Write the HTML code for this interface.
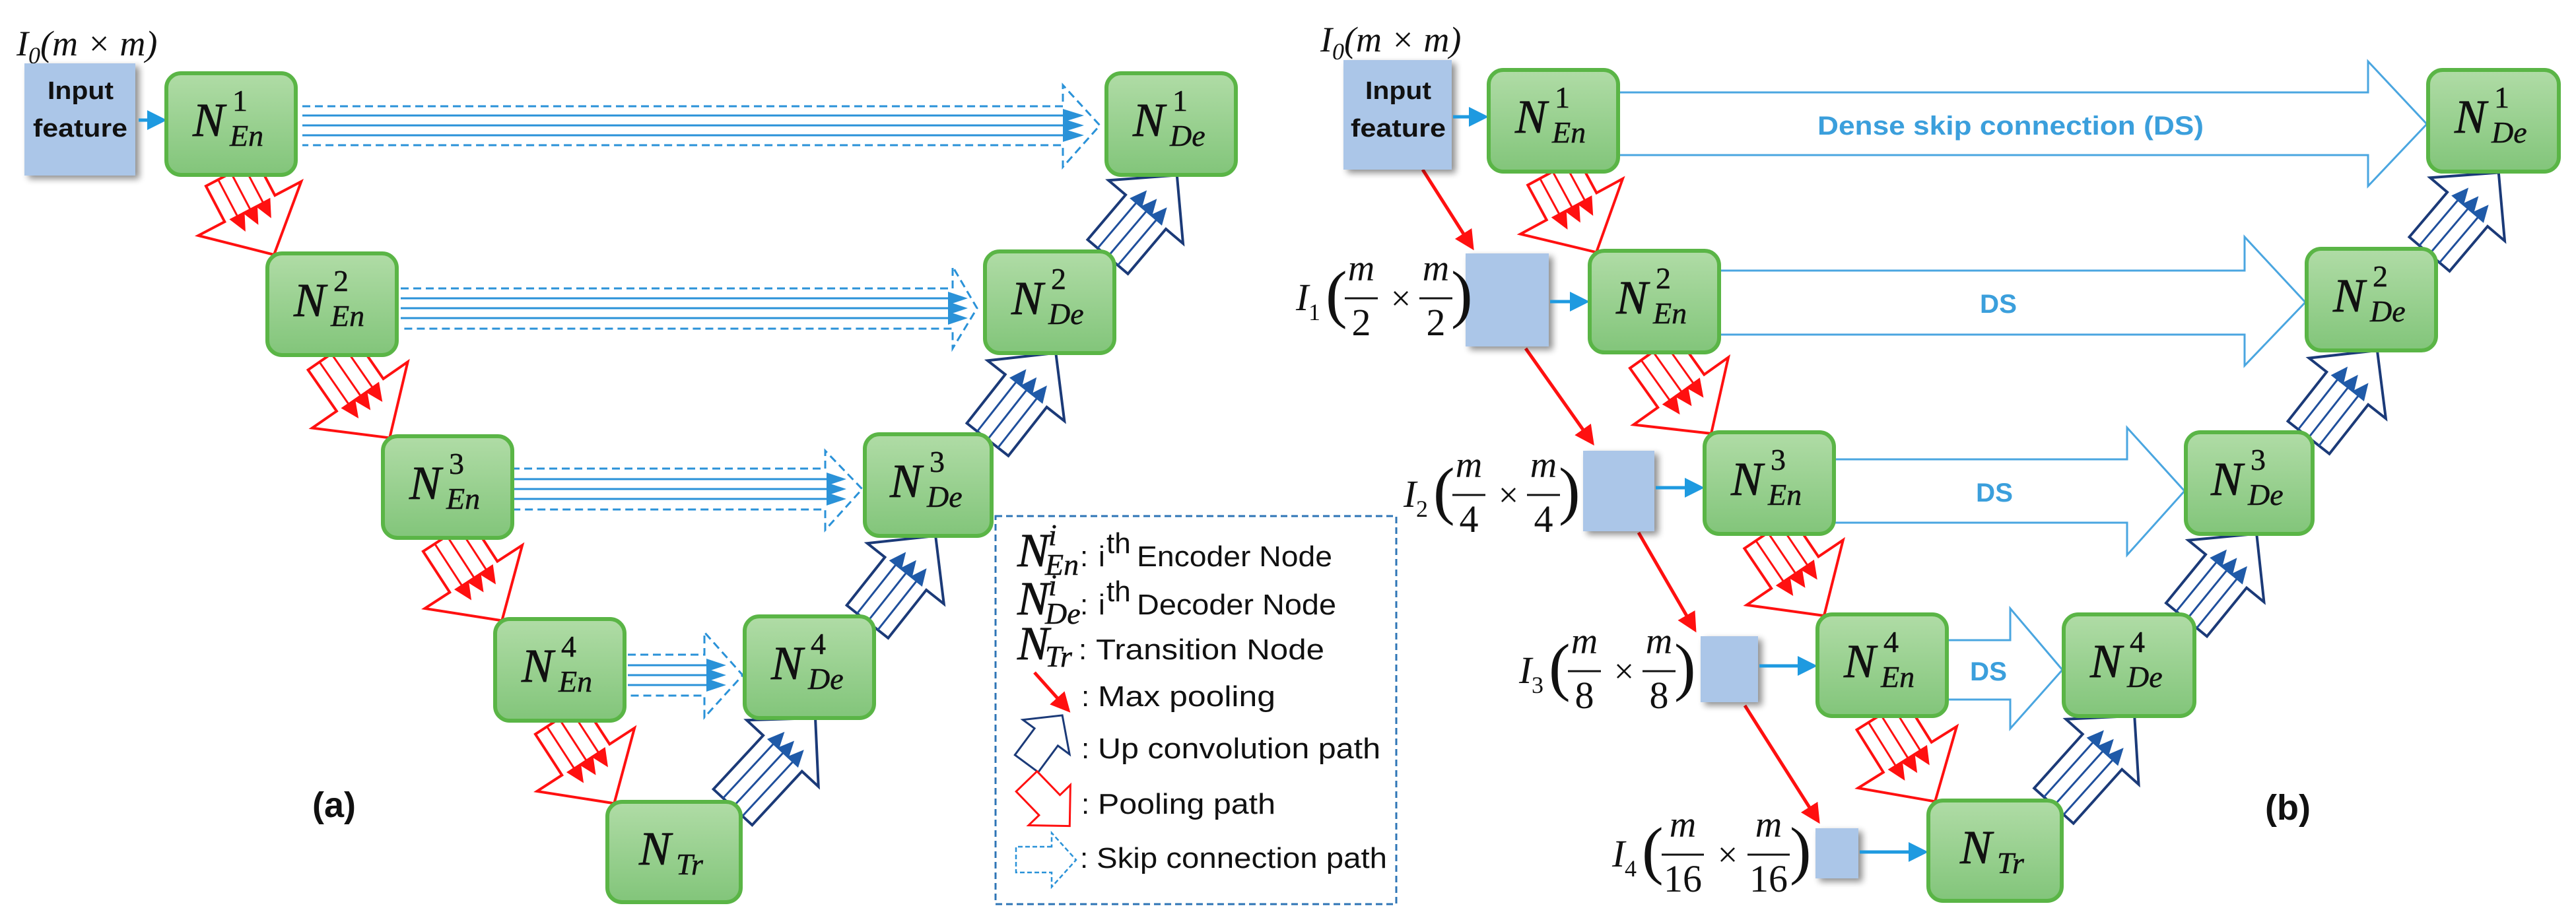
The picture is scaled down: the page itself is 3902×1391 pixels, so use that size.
<!DOCTYPE html>
<html><head><meta charset="utf-8"><style>
html,body{margin:0;padding:0;background:#fff;}
svg{display:block;}
.N{font-family:"Liberation Serif",serif;font-style:italic;font-size:72px;fill:#111;stroke:#111;stroke-width:0.8;}
.S{font-family:"Liberation Serif",serif;font-style:italic;font-size:46px;fill:#111;stroke:#111;stroke-width:0.5;}
.Sn{font-family:"Liberation Serif",serif;font-size:46px;fill:#111;stroke:#111;stroke-width:0.5;}
.nd{fill:url(#gg);stroke:#5ab546;stroke-width:6;}
.inb{fill:#abc6e8;}
.lt{font-family:"Liberation Sans",sans-serif;font-size:44px;fill:#111;}
.bt{font-family:"Liberation Sans",sans-serif;font-weight:bold;fill:#111;}
.ds{font-family:"Liberation Sans",sans-serif;font-weight:bold;font-size:40px;fill:#3b9fdc;}
.mi{font-family:"Liberation Serif",serif;font-style:italic;fill:#111;}
.mn{font-family:"Liberation Serif",serif;fill:#111;}
.pool polygon{fill:#fff;stroke:#ff1010;stroke-width:4;}
.pool line{stroke:#ff1010;stroke-width:3;}
.pool path{fill:#ff1010;}
.up polygon{fill:#fff;stroke:#1b3a78;stroke-width:4;}
.up line{stroke:#1f4f9c;stroke-width:3;}
.up path{fill:#1f5aa8;}
.sk path.o{fill:none;stroke:#2a92d8;stroke-width:3;stroke-dasharray:12 7;}
.sk line{stroke:#2a92d8;stroke-width:3;}
.sk path.t{fill:#2a92d8;}
.dsa{fill:#fff;stroke:#4aa6e0;stroke-width:3;}
</style></head><body>
<svg width="3902" height="1391" viewBox="0 0 3902 1391" xmlns="http://www.w3.org/2000/svg">
<defs>
<linearGradient id="gg" x1="0" y1="0" x2="0" y2="1"><stop offset="0" stop-color="#b0dca6"/><stop offset="1" stop-color="#82c57a"/></linearGradient>
<marker id="ab" markerWidth="6" markerHeight="6" refX="5" refY="3" orient="auto" markerUnits="strokeWidth"><path d="M0,0 L6,3 L0,6 z" fill="#1e9ae0"/></marker>
<marker id="ar" markerWidth="6" markerHeight="6" refX="5" refY="3" orient="auto" markerUnits="strokeWidth"><path d="M0,0 L6,3 L0,6 z" fill="#ff1010"/></marker>
<filter id="sh" x="-20%" y="-20%" width="150%" height="150%"><feGaussianBlur in="SourceAlpha" stdDeviation="5"/><feOffset dx="6" dy="5"/><feComponentTransfer><feFuncA type="linear" slope="0.45"/></feComponentTransfer><feMerge><feMergeNode/><feMergeNode in="SourceGraphic"/></feMerge></filter>
</defs>

<!-- ================= (a) ================= -->
<g class="sk">
<path class="o" d="M458,161 L1610,161 L1610,129 L1666,190 L1610,253 L1610,220 L458,220"/>
<line x1="458" y1="175" x2="1615" y2="175"/><line x1="458" y1="190" x2="1615" y2="190"/><line x1="458" y1="205" x2="1615" y2="205"/>
<path class="t" d="M1610,165 L1642,175 L1610,185 z M1610,180 L1642,190 L1610,200 z M1610,195 L1642,205 L1610,215 z"/>
<path class="o" d="M607,437 L1443,437 L1443,404 L1480,467 L1443,528 L1443,498 L607,498"/>
<line x1="607" y1="452" x2="1440" y2="452"/><line x1="607" y1="467" x2="1440" y2="467"/><line x1="607" y1="482" x2="1440" y2="482"/>
<path class="t" d="M1436,442 L1466,452 L1436,462 z M1436,457 L1466,467 L1436,477 z M1436,472 L1466,482 L1436,492 z"/>
<path class="o" d="M775,710 L1250,710 L1250,683 L1306,741 L1250,803 L1250,772 L775,772"/>
<line x1="775" y1="726" x2="1255" y2="726"/><line x1="775" y1="741" x2="1255" y2="741"/><line x1="775" y1="756" x2="1255" y2="756"/>
<path class="t" d="M1252,716 L1282,726 L1252,736 z M1252,731 L1282,741 L1252,751 z M1252,746 L1282,756 L1252,766 z"/>
<path class="o" d="M951,992 L1067,992 L1067,958 L1125,1023 L1067,1087 L1067,1054 L951,1054"/>
<line x1="951" y1="1008" x2="1075" y2="1008"/><line x1="951" y1="1023" x2="1075" y2="1023"/><line x1="951" y1="1038" x2="1075" y2="1038"/>
<path class="t" d="M1070,998 L1100,1008 L1070,1018 z M1070,1013 L1100,1023 L1070,1033 z M1070,1028 L1100,1038 L1070,1048 z"/>
</g>

<g class="pool" transform="translate(350,262) rotate(62.3)"><polygon points="0,-43 61,-43 61,-88 140,0 61,88 61,43 0,43"/><line x1="0" y1="-22" x2="65" y2="-22"/><line x1="0" y1="0" x2="65" y2="0"/><line x1="0" y1="22" x2="65" y2="22"/><path d="M61,-35 L89,-22 L61,-9 z M61,-13 L89,0 L61,13 z M61,9 L89,22 L61,35 z"/></g>
<g class="pool" transform="translate(502,536) rotate(55.3)"><polygon points="0,-43 76,-43 76,-88 155,0 76,88 76,43 0,43"/><line x1="0" y1="-22" x2="80" y2="-22"/><line x1="0" y1="0" x2="80" y2="0"/><line x1="0" y1="22" x2="80" y2="22"/><path d="M76,-35 L104,-22 L76,-9 z M76,-13 L104,0 L76,13 z M76,9 L104,22 L76,35 z"/></g>
<g class="pool" transform="translate(677,812) rotate(57)"><polygon points="0,-43 74,-43 74,-88 153,0 74,88 74,43 0,43"/><line x1="0" y1="-22" x2="78" y2="-22"/><line x1="0" y1="0" x2="78" y2="0"/><line x1="0" y1="22" x2="78" y2="22"/><path d="M74,-35 L102,-22 L74,-9 z M74,-13 L102,0 L74,13 z M74,9 L102,22 L74,35 z"/></g>
<g class="pool" transform="translate(847,1089) rotate(57)"><polygon points="0,-43 74,-43 74,-88 153,0 74,88 74,43 0,43"/><line x1="0" y1="-22" x2="78" y2="-22"/><line x1="0" y1="0" x2="78" y2="0"/><line x1="0" y1="22" x2="78" y2="22"/><path d="M74,-35 L102,-22 L74,-9 z M74,-13 L102,0 L74,13 z M74,9 L102,22 L74,35 z"/></g>

<g class="up" transform="translate(1678,389) rotate(-49.7)"><polygon points="0,-40 89,-40 89,-74 162,0 89,74 89,40 0,40"/><line x1="0" y1="-20" x2="93" y2="-20"/><line x1="0" y1="0" x2="93" y2="0"/><line x1="0" y1="20" x2="93" y2="20"/><path d="M89,-32 L115,-20 L89,-8 z M89,-12 L115,0 L89,12 z M89,8 L115,20 L89,32 z"/></g>
<g class="up" transform="translate(1496,666) rotate(-51.8)"><polygon points="0,-40 94,-40 94,-74 167,0 94,74 94,40 0,40"/><line x1="0" y1="-20" x2="98" y2="-20"/><line x1="0" y1="0" x2="98" y2="0"/><line x1="0" y1="20" x2="98" y2="20"/><path d="M94,-32 L120,-20 L94,-8 z M94,-12 L120,0 L94,12 z M94,8 L120,20 L94,32 z"/></g>
<g class="up" transform="translate(1314,942) rotate(-51.6)"><polygon points="0,-40 93,-40 93,-74 166,0 93,74 93,40 0,40"/><line x1="0" y1="-20" x2="97" y2="-20"/><line x1="0" y1="0" x2="97" y2="0"/><line x1="0" y1="20" x2="97" y2="20"/><path d="M93,-32 L119,-20 L93,-8 z M93,-12 L119,0 L93,12 z M93,8 L119,20 L93,32 z"/></g>
<g class="up" transform="translate(1110,1223) rotate(-47.2)"><polygon points="0,-40 111,-40 111,-74 184,0 111,74 111,40 0,40"/><line x1="0" y1="-20" x2="115" y2="-20"/><line x1="0" y1="0" x2="115" y2="0"/><line x1="0" y1="20" x2="115" y2="20"/><path d="M111,-32 L137,-20 L111,-8 z M111,-12 L137,0 L111,12 z M111,8 L137,20 L111,32 z"/></g>

<text class="mi" x="25" y="84" font-size="54">I<tspan class="mn" font-size="36" dy="12">0</tspan><tspan dy="-12">(m</tspan><tspan class="mn"> × </tspan><tspan>m)</tspan></text>
<rect class="inb" x="37" y="96" width="168" height="170" filter="url(#sh)"/>
<text class="bt" x="72" y="150" font-size="38" textLength="100" lengthAdjust="spacingAndGlyphs">Input</text>
<text class="bt" x="50" y="207" font-size="38" textLength="143" lengthAdjust="spacingAndGlyphs">feature</text>
<line x1="210" y1="182" x2="248" y2="182" stroke="#1e9ae0" stroke-width="5" marker-end="url(#ab)"/>

<g transform="translate(252,111)"><rect class="nd" width="196" height="154" rx="22"/><text class="N" x="40" y="95">N</text><text class="Sn" x="100" y="57">1</text><text class="S" x="96" y="110">En</text></g>
<g transform="translate(405,384)"><rect class="nd" width="196" height="154" rx="22"/><text class="N" x="40" y="95">N</text><text class="Sn" x="100" y="57">2</text><text class="S" x="96" y="110">En</text></g>
<g transform="translate(580,661)"><rect class="nd" width="196" height="154" rx="22"/><text class="N" x="40" y="95">N</text><text class="Sn" x="100" y="57">3</text><text class="S" x="96" y="110">En</text></g>
<g transform="translate(750,938)"><rect class="nd" width="196" height="154" rx="22"/><text class="N" x="40" y="95">N</text><text class="Sn" x="100" y="57">4</text><text class="S" x="96" y="110">En</text></g>
<g transform="translate(920,1215)"><rect class="nd" width="202" height="152" rx="22"/><text class="N" x="48" y="95">N</text><text class="S" x="104" y="110">Tr</text></g>
<g transform="translate(1676,111)"><rect class="nd" width="196" height="154" rx="22"/><text class="N" x="40" y="95">N</text><text class="Sn" x="100" y="57">1</text><text class="S" x="96" y="110">De</text></g>
<g transform="translate(1492,381)"><rect class="nd" width="196" height="154" rx="22"/><text class="N" x="40" y="95">N</text><text class="Sn" x="100" y="57">2</text><text class="S" x="96" y="110">De</text></g>
<g transform="translate(1310,658)"><rect class="nd" width="192" height="154" rx="22"/><text class="N" x="38" y="95">N</text><text class="Sn" x="98" y="57">3</text><text class="S" x="94" y="110">De</text></g>
<g transform="translate(1128,934)"><rect class="nd" width="196" height="154" rx="22"/><text class="N" x="40" y="95">N</text><text class="Sn" x="100" y="57">4</text><text class="S" x="96" y="110">De</text></g>

<text class="bt" x="473" y="1238" font-size="54">(a)</text>

<rect x="1508" y="782" width="607" height="588" fill="none" stroke="#2e75b6" stroke-width="3" stroke-dasharray="10 6"/>
<text class="N" x="1541" y="858" font-size="56">N</text><text class="S" x="1588" y="826" font-size="36">i</text><text class="S" x="1583" y="871" font-size="36">En</text>
<text class="lt" x="1636" y="858">:</text><text class="lt" x="1664" y="858">i</text><text class="lt" x="1676" y="838" font-size="28">th</text><text class="lt" x="1722" y="858" textLength="296" lengthAdjust="spacingAndGlyphs">Encoder Node</text>
<text class="N" x="1541" y="931" font-size="56">N</text><text class="S" x="1588" y="902" font-size="36">i</text><text class="S" x="1583" y="945" font-size="36">De</text>
<text class="lt" x="1636" y="931">:</text><text class="lt" x="1664" y="931">i</text><text class="lt" x="1676" y="911" font-size="28">th</text><text class="lt" x="1722" y="931" textLength="302" lengthAdjust="spacingAndGlyphs">Decoder Node</text>
<text class="N" x="1541" y="999" font-size="56">N</text><text class="S" x="1583" y="1010" font-size="36">Tr</text>
<text class="lt" x="1634" y="999">:</text><text class="lt" x="1660" y="999" textLength="346" lengthAdjust="spacingAndGlyphs">Transition Node</text>
<line x1="1567" y1="1019" x2="1618" y2="1076" stroke="#ff1010" stroke-width="5" marker-end="url(#ar)"/>
<text class="lt" x="1638" y="1070">:</text><text class="lt" x="1663" y="1070" textLength="269" lengthAdjust="spacingAndGlyphs">Max pooling</text>
<g class="up" transform="translate(1555,1157) rotate(-53.5)"><polygon points="0,-22 50,-22 50,-44 91,0 50,44 50,22 0,22" style="stroke-width:3"/></g>
<text class="lt" x="1638" y="1149">:</text><text class="lt" x="1663" y="1149" textLength="428" lengthAdjust="spacingAndGlyphs">Up convolution path</text>
<g class="pool" transform="translate(1555,1184) rotate(46)"><polygon points="0,-22 50,-22 50,-44 94,0 50,44 50,22 0,22" style="stroke-width:3"/></g>
<text class="lt" x="1638" y="1233">:</text><text class="lt" x="1663" y="1233" textLength="269" lengthAdjust="spacingAndGlyphs">Pooling path</text>
<path d="M1593,1283 L1539,1283 L1539,1322 L1593,1322 L1593,1344 L1630,1303 L1593,1262 z" fill="none" stroke="#2a92d8" stroke-width="2.5" stroke-dasharray="7 4"/>
<text class="lt" x="1636" y="1315">:</text><text class="lt" x="1661" y="1315" textLength="440" lengthAdjust="spacingAndGlyphs">Skip connection path</text>

<!-- ================= (b) ================= -->
<polygon class="dsa" points="2450,140 3587,140 3587,93 3676,188 3587,282 3587,235 2450,235"/>
<polygon class="dsa" points="2601,410 3400,410 3400,359 3492,458 3400,554 3400,507 2601,507"/>
<polygon class="dsa" points="2775,696 3222,696 3222,648 3309,744 3222,841 3222,792 2775,792"/>
<polygon class="dsa" points="2946,970 3045,970 3045,922 3124,1015 3045,1104 3045,1060 2946,1060"/>
<text class="ds" x="2753" y="204" textLength="585" lengthAdjust="spacingAndGlyphs">Dense skip connection (DS)</text>
<text class="ds" x="2999" y="474" textLength="56" lengthAdjust="spacingAndGlyphs">DS</text>
<text class="ds" x="2993" y="760" textLength="56" lengthAdjust="spacingAndGlyphs">DS</text>
<text class="ds" x="2984" y="1031" textLength="56" lengthAdjust="spacingAndGlyphs">DS</text>

<g class="pool" transform="translate(2352,260) rotate(61.6)"><polygon points="0,-43 60,-43 60,-88 139,0 60,88 60,43 0,43"/><line x1="0" y1="-22" x2="64" y2="-22"/><line x1="0" y1="0" x2="64" y2="0"/><line x1="0" y1="22" x2="64" y2="22"/><path d="M60,-35 L88,-22 L60,-9 z M60,-13 L88,0 L60,13 z M60,9 L88,22 L60,35 z"/></g>
<g class="pool" transform="translate(2504,533) rotate(54.6)"><polygon points="0,-43 73,-43 73,-88 152,0 73,88 73,43 0,43"/><line x1="0" y1="-22" x2="77" y2="-22"/><line x1="0" y1="0" x2="77" y2="0"/><line x1="0" y1="22" x2="77" y2="22"/><path d="M73,-35 L101,-22 L73,-9 z M73,-13 L101,0 L73,13 z M73,9 L101,22 L73,35 z"/></g>
<g class="pool" transform="translate(2678,807) rotate(56)"><polygon points="0,-43 73,-43 73,-88 152,0 73,88 73,43 0,43"/><line x1="0" y1="-22" x2="77" y2="-22"/><line x1="0" y1="0" x2="77" y2="0"/><line x1="0" y1="22" x2="77" y2="22"/><path d="M73,-35 L101,-22 L73,-9 z M73,-13 L101,0 L73,13 z M73,9 L101,22 L73,35 z"/></g>
<g class="pool" transform="translate(2849,1083) rotate(58)"><polygon points="0,-43 76,-43 76,-88 155,0 76,88 76,43 0,43"/><line x1="0" y1="-22" x2="80" y2="-22"/><line x1="0" y1="0" x2="80" y2="0"/><line x1="0" y1="22" x2="80" y2="22"/><path d="M76,-35 L104,-22 L76,-9 z M76,-13 L104,0 L76,13 z M76,9 L104,22 L76,35 z"/></g>

<g class="up" transform="translate(3680,385) rotate(-49.7)"><polygon points="0,-40 89,-40 89,-74 162,0 89,74 89,40 0,40"/><line x1="0" y1="-20" x2="93" y2="-20"/><line x1="0" y1="0" x2="93" y2="0"/><line x1="0" y1="20" x2="93" y2="20"/><path d="M89,-32 L115,-20 L89,-8 z M89,-12 L115,0 L89,12 z M89,8 L115,20 L89,32 z"/></g>
<g class="up" transform="translate(3497,663) rotate(-51.8)"><polygon points="0,-40 95,-40 95,-74 168,0 95,74 95,40 0,40"/><line x1="0" y1="-20" x2="99" y2="-20"/><line x1="0" y1="0" x2="99" y2="0"/><line x1="0" y1="20" x2="99" y2="20"/><path d="M95,-32 L121,-20 L95,-8 z M95,-12 L121,0 L95,12 z M95,8 L121,20 L95,32 z"/></g>
<g class="up" transform="translate(3312,939) rotate(-50.8)"><polygon points="0,-40 95,-40 95,-74 168,0 95,74 95,40 0,40"/><line x1="0" y1="-20" x2="99" y2="-20"/><line x1="0" y1="0" x2="99" y2="0"/><line x1="0" y1="20" x2="99" y2="20"/><path d="M95,-32 L121,-20 L95,-8 z M95,-12 L121,0 L95,12 z M95,8 L121,20 L95,32 z"/></g>
<g class="up" transform="translate(3111,1221) rotate(-48.1)"><polygon points="0,-40 110,-40 110,-74 183,0 110,74 110,40 0,40"/><line x1="0" y1="-20" x2="114" y2="-20"/><line x1="0" y1="0" x2="114" y2="0"/><line x1="0" y1="20" x2="114" y2="20"/><path d="M110,-32 L136,-20 L110,-8 z M110,-12 L136,0 L110,12 z M110,8 L136,20 L110,32 z"/></g>

<g stroke="#ff1010" stroke-width="5" fill="none">
<line x1="2155" y1="257" x2="2230" y2="375" marker-end="url(#ar)"/>
<line x1="2311" y1="528" x2="2412" y2="671" marker-end="url(#ar)"/>
<line x1="2482" y1="807" x2="2567" y2="954" marker-end="url(#ar)"/>
<line x1="2643" y1="1069" x2="2754" y2="1244" marker-end="url(#ar)"/>
</g>

<text class="mi" x="2000" y="78" font-size="54">I<tspan class="mn" font-size="36" dy="12">0</tspan><tspan dy="-12">(m</tspan><tspan class="mn"> × </tspan><tspan>m)</tspan></text>
<rect class="inb" x="2035" y="91" width="164" height="166" filter="url(#sh)"/>
<text class="bt" x="2068" y="150" font-size="38" textLength="100" lengthAdjust="spacingAndGlyphs">Input</text>
<text class="bt" x="2046" y="207" font-size="38" textLength="144" lengthAdjust="spacingAndGlyphs">feature</text>
<rect class="inb" x="2220" y="384" width="126" height="141" filter="url(#sh)"/>
<rect class="inb" x="2398" y="683" width="108" height="122" filter="url(#sh)"/>
<rect class="inb" x="2576" y="964" width="87" height="100" filter="url(#sh)"/>
<rect class="inb" x="2750" y="1255" width="65" height="76" filter="url(#sh)"/>

<g stroke="#1e9ae0" stroke-width="5">
<line x1="2201" y1="177" x2="2250" y2="177" marker-end="url(#ab)"/>
<line x1="2348" y1="457" x2="2403" y2="457" marker-end="url(#ab)"/>
<line x1="2508" y1="739" x2="2577" y2="739" marker-end="url(#ab)"/>
<line x1="2665" y1="1009" x2="2748" y2="1009" marker-end="url(#ab)"/>
<line x1="2817" y1="1291" x2="2916" y2="1291" marker-end="url(#ab)"/>
</g>

<g>
<text class="mi" x="1963" y="470" font-size="58">I</text><text class="mn" x="1982" y="485" font-size="36">1</text>
<text class="mn" x="2008" y="478" font-size="98">(</text>
<text class="mi" x="2062" y="425" font-size="56" text-anchor="middle">m</text><line x1="2037" y1="452" x2="2087" y2="452" stroke="#111" stroke-width="3"/><text class="mn" x="2062" y="508" font-size="58" text-anchor="middle">2</text>
<text class="mn" x="2122" y="470" font-size="54" text-anchor="middle">×</text>
<text class="mi" x="2175" y="425" font-size="56" text-anchor="middle">m</text><line x1="2150" y1="452" x2="2200" y2="452" stroke="#111" stroke-width="3"/><text class="mn" x="2175" y="508" font-size="58" text-anchor="middle">2</text>
<text class="mn" x="2198" y="478" font-size="98">)</text>
</g>
<g transform="translate(163,298)">
<text class="mi" x="1963" y="470" font-size="58">I</text><text class="mn" x="1982" y="485" font-size="36">2</text>
<text class="mn" x="2008" y="478" font-size="98">(</text>
<text class="mi" x="2062" y="425" font-size="56" text-anchor="middle">m</text><line x1="2037" y1="452" x2="2087" y2="452" stroke="#111" stroke-width="3"/><text class="mn" x="2062" y="508" font-size="58" text-anchor="middle">4</text>
<text class="mn" x="2122" y="470" font-size="54" text-anchor="middle">×</text>
<text class="mi" x="2175" y="425" font-size="56" text-anchor="middle">m</text><line x1="2150" y1="452" x2="2200" y2="452" stroke="#111" stroke-width="3"/><text class="mn" x="2175" y="508" font-size="58" text-anchor="middle">4</text>
<text class="mn" x="2198" y="478" font-size="98">)</text>
</g>
<g transform="translate(338,565)">
<text class="mi" x="1963" y="470" font-size="58">I</text><text class="mn" x="1982" y="485" font-size="36">3</text>
<text class="mn" x="2008" y="478" font-size="98">(</text>
<text class="mi" x="2062" y="425" font-size="56" text-anchor="middle">m</text><line x1="2037" y1="452" x2="2087" y2="452" stroke="#111" stroke-width="3"/><text class="mn" x="2062" y="508" font-size="58" text-anchor="middle">8</text>
<text class="mn" x="2122" y="470" font-size="54" text-anchor="middle">×</text>
<text class="mi" x="2175" y="425" font-size="56" text-anchor="middle">m</text><line x1="2150" y1="452" x2="2200" y2="452" stroke="#111" stroke-width="3"/><text class="mn" x="2175" y="508" font-size="58" text-anchor="middle">8</text>
<text class="mn" x="2198" y="478" font-size="98">)</text>
</g>
<g transform="translate(479,843)">
<text class="mi" x="1963" y="470" font-size="58">I</text><text class="mn" x="1982" y="485" font-size="36">4</text>
<text class="mn" x="2008" y="478" font-size="98">(</text>
<text class="mi" x="2070" y="425" font-size="56" text-anchor="middle">m</text><line x1="2038" y1="452" x2="2102" y2="452" stroke="#111" stroke-width="3"/><text class="mn" x="2070" y="508" font-size="58" text-anchor="middle">16</text>
<text class="mn" x="2138" y="470" font-size="54" text-anchor="middle">×</text>
<text class="mi" x="2200" y="425" font-size="56" text-anchor="middle">m</text><line x1="2168" y1="452" x2="2232" y2="452" stroke="#111" stroke-width="3"/><text class="mn" x="2200" y="508" font-size="58" text-anchor="middle">16</text>
<text class="mn" x="2232" y="478" font-size="98">)</text>
</g>

<g transform="translate(2255,106)"><rect class="nd" width="196" height="154" rx="22"/><text class="N" x="40" y="95">N</text><text class="Sn" x="100" y="57">1</text><text class="S" x="96" y="110">En</text></g>
<g transform="translate(2408,380)"><rect class="nd" width="196" height="154" rx="22"/><text class="N" x="40" y="95">N</text><text class="Sn" x="100" y="57">2</text><text class="S" x="96" y="110">En</text></g>
<g transform="translate(2582,655)"><rect class="nd" width="196" height="154" rx="22"/><text class="N" x="40" y="95">N</text><text class="Sn" x="100" y="57">3</text><text class="S" x="96" y="110">En</text></g>
<g transform="translate(2753,931)"><rect class="nd" width="196" height="154" rx="22"/><text class="N" x="40" y="95">N</text><text class="Sn" x="100" y="57">4</text><text class="S" x="96" y="110">En</text></g>
<g transform="translate(2921,1213)"><rect class="nd" width="202" height="152" rx="22"/><text class="N" x="48" y="95">N</text><text class="S" x="104" y="110">Tr</text></g>
<g transform="translate(3678,106)"><rect class="nd" width="198" height="154" rx="22"/><text class="N" x="40" y="95">N</text><text class="Sn" x="100" y="57">1</text><text class="S" x="96" y="110">De</text></g>
<g transform="translate(3494,377)"><rect class="nd" width="196" height="154" rx="22"/><text class="N" x="40" y="95">N</text><text class="Sn" x="100" y="57">2</text><text class="S" x="96" y="110">De</text></g>
<g transform="translate(3311,655)"><rect class="nd" width="192" height="154" rx="22"/><text class="N" x="38" y="95">N</text><text class="Sn" x="98" y="57">3</text><text class="S" x="94" y="110">De</text></g>
<g transform="translate(3126,931)"><rect class="nd" width="198" height="154" rx="22"/><text class="N" x="40" y="95">N</text><text class="Sn" x="100" y="57">4</text><text class="S" x="96" y="110">De</text></g>

<text class="bt" x="3431" y="1242" font-size="54">(b)</text>
</svg>
</body></html>
